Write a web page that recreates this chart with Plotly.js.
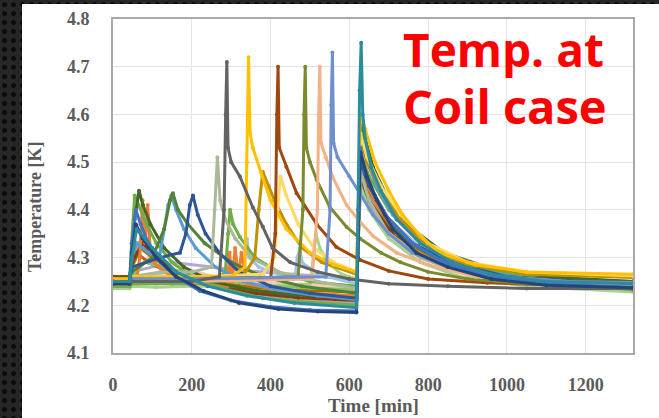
<!DOCTYPE html>
<html>
<head>
<meta charset="utf-8">
<script src="https://cdn.plot.ly/plotly-3.0.1.min.js"></script>
<style>
  html, body { margin:0; padding:0; width:659px; height:418px; overflow:hidden; }
  body { background-color:#262626;
         background-image: radial-gradient(circle, #0c0c0c 2.2px, transparent 2.8px);
         background-size: 9px 9px; }
  #chart { position:absolute; left:22px; top:4px; width:637px; height:414px; background:#fff; }
</style>
</head>
<body>
<div id="chart"></div>
<script>
// ---- data (time [min], temperature [K]) ----
const time01 = [0,42,48,58,70,90,120,160,220,300,400,500,618,621,628,640,665,700,760,840,950,1100,1320];
const temp01 = [4.25,4.25,4.33,4.40,4.37,4.33,4.29,4.26,4.23,4.21,4.197,4.19,4.188,4.30,4.53,4.48,4.43,4.38,4.33,4.29,4.26,4.245,4.238];
const time02 = [0,42,47,55,65,85,110,150,200,280,380,480,618,621,628,640,665,705,760,830,920,1050,1320];
const temp02 = [4.24,4.24,4.33,4.43,4.41,4.37,4.33,4.29,4.26,4.235,4.215,4.207,4.20,4.31,4.58,4.52,4.46,4.40,4.35,4.31,4.28,4.26,4.245];
const time03 = [0,45,55,66,76,95,130,180,250,350,450,618,621,628,640,660,700,760,840,950,1100,1320];
const temp03 = [4.255,4.26,4.38,4.44,4.41,4.37,4.32,4.28,4.25,4.232,4.222,4.215,4.34,4.60,4.55,4.49,4.42,4.36,4.31,4.28,4.26,4.25];
const time04 = [0,60,68,75,82,88,95,105,130,170,230,290,296,302,310,318,326,340,400,500,618,621,628,640,670,720,800,900,1050,1320];
const temp04 = [4.255,4.255,4.30,4.42,4.33,4.41,4.31,4.29,4.27,4.255,4.245,4.24,4.31,4.25,4.32,4.26,4.31,4.245,4.235,4.225,4.22,4.32,4.50,4.46,4.41,4.35,4.30,4.275,4.255,4.245];
const time05 = [0,42,48,60,90,118,130,140,148,160,180,210,260,330,420,520,618,621,628,645,670,710,770,850,950,1100,1320];
const temp05 = [4.245,4.245,4.30,4.33,4.31,4.30,4.36,4.41,4.43,4.40,4.36,4.32,4.28,4.25,4.232,4.22,4.212,4.30,4.55,4.50,4.45,4.39,4.34,4.30,4.27,4.25,4.24];
const time06 = [0,42,48,100,130,145,152,165,190,233,300,380,480,618,621,628,650,690,750,840,960,1320];
const temp06 = [4.25,4.25,4.27,4.30,4.36,4.42,4.435,4.40,4.37,4.33,4.29,4.26,4.24,4.225,4.31,4.50,4.45,4.39,4.33,4.29,4.26,4.245];
const time07 = [0,42,48,120,170,185,195,203,215,235,270,320,400,500,618,621,628,650,690,760,860,1000,1320];
const temp07 = [4.25,4.25,4.28,4.30,4.31,4.35,4.41,4.43,4.39,4.35,4.31,4.27,4.24,4.225,4.215,4.30,4.50,4.45,4.39,4.33,4.29,4.26,4.243];
const time08 = [0,42,48,120,200,250,258,265,272,285,310,350,420,520,618,621,628,650,700,780,900,1320];
const temp08 = [4.25,4.25,4.26,4.27,4.27,4.28,4.40,4.51,4.42,4.38,4.34,4.30,4.27,4.25,4.235,4.30,4.48,4.42,4.35,4.30,4.265,4.24];
const time09 = [0,42,48,200,270,282,286,289,292,300,322,355,380,405,450,520,600,700,850,1050,1320];
const temp09 = [4.245,4.245,4.25,4.25,4.26,4.40,4.60,4.71,4.53,4.50,4.47,4.405,4.365,4.32,4.29,4.27,4.255,4.245,4.24,4.235,4.235];
const time10 = [0,42,48,200,300,335,340,344,348,355,375,400,440,500,560,618,621,628,640,665,700,735,780,830,920,1050,1320];
const temp10 = [4.255,4.255,4.26,4.26,4.26,4.28,4.50,4.72,4.56,4.53,4.48,4.42,4.36,4.31,4.285,4.27,4.35,4.60,4.57,4.50,4.44,4.39,4.345,4.31,4.285,4.27,4.265];
const time11 = [0,42,48,200,330,360,370,380,395,410,440,480,530,618,621,628,645,680,730,800,900,1050,1320];
const temp11 = [4.25,4.25,4.255,4.255,4.26,4.30,4.40,4.48,4.45,4.42,4.37,4.32,4.29,4.265,4.33,4.55,4.50,4.44,4.38,4.32,4.285,4.265,4.258];
const time12 = [0,42,48,200,380,410,418,425,440,470,510,560,618,621,628,645,680,730,800,900,1050,1320];
const temp12 = [4.255,4.255,4.26,4.26,4.265,4.30,4.40,4.47,4.43,4.37,4.32,4.29,4.27,4.34,4.56,4.51,4.45,4.39,4.33,4.29,4.27,4.262];
const time13 = [0,42,48,200,400,412,416,419,422,440,466,517,567,627,700,800,950,1100,1320];
const temp13 = [4.245,4.245,4.25,4.25,4.255,4.35,4.60,4.70,4.53,4.49,4.435,4.37,4.322,4.295,4.272,4.255,4.247,4.243,4.24];
const time14 = [0,42,48,200,470,482,485,488,491,500,517,550,593,627,680,730,800,900,1050,1320];
const temp14 = [4.25,4.25,4.255,4.255,4.26,4.40,4.60,4.70,4.53,4.50,4.463,4.406,4.364,4.34,4.31,4.29,4.27,4.255,4.245,4.24];
const time15 = [0,42,48,200,505,519,522,525,528,540,557,593,627,660,720,800,920,1100,1320];
const temp15 = [4.245,4.245,4.25,4.25,4.255,4.40,4.60,4.70,4.54,4.51,4.47,4.41,4.375,4.345,4.31,4.285,4.26,4.248,4.243];
const time16 = [0,42,48,200,540,551,554,557,560,570,600,627,660,700,760,850,980,1150,1320];
const temp16 = [4.25,4.25,4.255,4.255,4.26,4.40,4.62,4.73,4.54,4.51,4.47,4.435,4.39,4.35,4.31,4.28,4.26,4.25,4.248];
const time17 = [0,42,48,60,100,160,240,340,460,618,622,626,630,634,640,655,680,720,780,860,960,1100,1320];
const temp17 = [4.25,4.25,4.30,4.36,4.32,4.27,4.24,4.22,4.205,4.195,4.40,4.65,4.75,4.60,4.55,4.49,4.44,4.38,4.33,4.29,4.265,4.25,4.245];
const time18 = [0,42,48,150,250,300,380,460,540,618,621,628,650,700,780,900,1100,1320];
const temp18 = [4.25,4.25,4.27,4.29,4.28,4.275,4.27,4.265,4.26,4.255,4.30,4.45,4.41,4.35,4.30,4.27,4.25,4.245];
const time19 = [0,42,48,150,250,285,292,297,305,322,360,420,500,618,621,628,650,700,770,860,1000,1320];
const temp19 = [4.24,4.24,4.245,4.245,4.245,4.27,4.35,4.40,4.37,4.343,4.30,4.27,4.25,4.24,4.30,4.52,4.47,4.40,4.34,4.29,4.26,4.232];
const time20 = [0,42,48,110,200,300,420,500,510,515,525,545,580,618,621,628,650,700,780,880,1050,1320];
const temp20 = [4.235,4.235,4.24,4.238,4.24,4.24,4.242,4.245,4.31,4.35,4.32,4.29,4.265,4.255,4.30,4.45,4.40,4.34,4.29,4.26,4.24,4.228];
const time21 = [0,42,48,60,90,150,250,350,450,618,621,628,650,700,780,880,1050,1320];
const temp21 = [4.26,4.26,4.28,4.31,4.29,4.265,4.245,4.232,4.225,4.218,4.30,4.50,4.45,4.38,4.32,4.28,4.255,4.245];
const time22 = [0,42,48,150,250,330,336,340,346,370,420,462,468,474,480,520,618,621,628,650,700,780,880,1050,1320];
const temp22 = [4.245,4.245,4.26,4.27,4.26,4.255,4.31,4.34,4.30,4.28,4.265,4.26,4.30,4.32,4.29,4.265,4.245,4.30,4.50,4.45,4.38,4.32,4.28,4.255,4.243];
const time23 = [0,42,48,58,75,110,160,230,320,420,520,618,621,628,645,670,710,770,850,960,1100,1320];
const temp23 = [4.245,4.245,4.31,4.37,4.34,4.30,4.26,4.23,4.205,4.192,4.187,4.185,4.30,4.52,4.47,4.42,4.36,4.31,4.28,4.255,4.242,4.237];
const time24 = [0,42,48,65,100,160,240,340,460,618,621,628,650,700,780,880,1050,1320];
const temp24 = [4.25,4.25,4.29,4.33,4.30,4.27,4.245,4.225,4.21,4.205,4.30,4.48,4.43,4.36,4.31,4.275,4.255,4.248];
const time25 = [0,42,48,70,100,160,250,350,450,618,621,628,650,700,780,880,1050,1320];
const temp25 = [4.255,4.255,4.28,4.32,4.30,4.27,4.25,4.238,4.232,4.228,4.31,4.49,4.44,4.37,4.31,4.275,4.255,4.25];
const time26 = [0,42,48,80,130,200,300,400,500,618,621,628,650,700,780,880,1050,1320];
const temp26 = [4.24,4.24,4.26,4.29,4.28,4.265,4.25,4.24,4.236,4.233,4.30,4.46,4.42,4.36,4.30,4.27,4.245,4.235];
const time27 = [0,42,48,75,110,170,260,360,470,618,621,628,650,700,780,880,1050,1320];
const temp27 = [4.26,4.26,4.29,4.33,4.30,4.265,4.24,4.225,4.216,4.21,4.30,4.47,4.42,4.36,4.31,4.275,4.255,4.247];
const time28 = [0,42,48,90,150,230,330,430,530,618,621,628,650,700,780,880,1050,1320];
const temp28 = [4.25,4.25,4.27,4.30,4.285,4.265,4.25,4.245,4.242,4.24,4.30,4.44,4.40,4.34,4.30,4.27,4.25,4.242];

const xTicks = [0,200,400,600,800,1000,1200];
const yTicks = [4.1,4.2,4.3,4.4,4.5,4.6,4.7,4.8];
const xTitle = 'Time [min]';
const yTitle = 'Temperature [K]';
const label1 = 'Temp. at';
const label2 = 'Coil case';

// draw order and colours
const seriesOrder = [
  [time24,temp24,'#A5A5A5'],[time18,temp18,'#B4A7D6'],[time28,temp28,'#F8CBAD'],[time20,temp20,'#A9D18E'],
  [time21,temp21,'#C55A11'],[time25,temp25,'#997300'],[time26,temp26,'#8CC168'],[time27,temp27,'#843C0C'],
  [time22,temp22,'#9DC3E6'],[time19,temp19,'#70AD47'],
  [time04,temp04,'#ED7D31'],[time02,temp02,'#70AD47'],[time03,temp03,'#43682B'],
  [time05,temp05,'#5B9BD5'],[time06,temp06,'#548235'],[time07,temp07,'#2F5597'],
  [time08,temp08,'#A9B99A'],[time11,temp11,'#BF9000'],[time12,temp12,'#FFD966'],
  [time10,temp10,'#FFC000'],[time13,temp13,'#9E480E'],[time14,temp14,'#7A8B2E'],
  [time15,temp15,'#F4B183'],[time16,temp16,'#6F8FCF'],[time09,temp09,'#636363'],
  [time01,temp01,'#4472C4'],[time23,temp23,'#264478'],[time17,temp17,'#2A8C9C']
];

const traces = seriesOrder.map(s => ({
  type:'scatter', mode:'lines+markers', x:s[0], y:s[1],
  line:{color:s[2], width:3}, marker:{color:s[2], size:4},
  showlegend:false, hoverinfo:'skip'
}));

const tickFont = {family:'Liberation Serif, Times New Roman, serif', size:18, color:'#5a5a5a', weight:'bold'};
const axisCommon = {
  showgrid:true, gridcolor:'#e4e4e4', gridwidth:1,
  showline:true, linecolor:'#a9a9a9', linewidth:2, mirror:true,
  zeroline:false, ticks:'outside', tickcolor:'rgba(0,0,0,0)',
  tickfont:tickFont, fixedrange:true
};

const layout = {
  width:637, height:414,
  margin:{l:91, r:26, t:15, b:65},
  paper_bgcolor:'#ffffff', plot_bgcolor:'#ffffff',
  xaxis:Object.assign({}, axisCommon, {range:[0,1320], tickvals:xTicks, ticktext:xTicks.map(String), ticklen:14}),
  yaxis:Object.assign({}, axisCommon, {range:[4.1,4.8], tickvals:yTicks, ticktext:yTicks.map(v=>v.toFixed(1)), ticklen:18}),
  annotations:[
    {xref:'paper', yref:'paper', x:0.5, y:-0.156, xanchor:'center', yanchor:'middle', showarrow:false,
     text:xTitle, font:{family:'Liberation Serif, Times New Roman, serif', size:19, color:'#5a5a5a', weight:'bold'}},
    {xref:'paper', yref:'paper', x:-0.15, y:0.437, xanchor:'center', yanchor:'middle', showarrow:false, textangle:-90,
     text:yTitle, font:{family:'Liberation Serif, Times New Roman, serif', size:18, color:'#5a5a5a', weight:'bold'}},
    {xref:'paper', yref:'paper', x:0.553, y:0.9087, xanchor:'left', yanchor:'middle', showarrow:false,
     text:label1, font:{family:'Open Sans', size:46, color:'#FF0000', weight:'bold'}},
    {xref:'paper', yref:'paper', x:0.553, y:0.741, xanchor:'left', yanchor:'middle', showarrow:false,
     text:label2, font:{family:'Open Sans', size:47, color:'#FF0000', weight:'bold'}}
  ]
};

Plotly.newPlot('chart', traces, layout, {staticPlot:true, displayModeBar:false});
</script>
</body>
</html>
